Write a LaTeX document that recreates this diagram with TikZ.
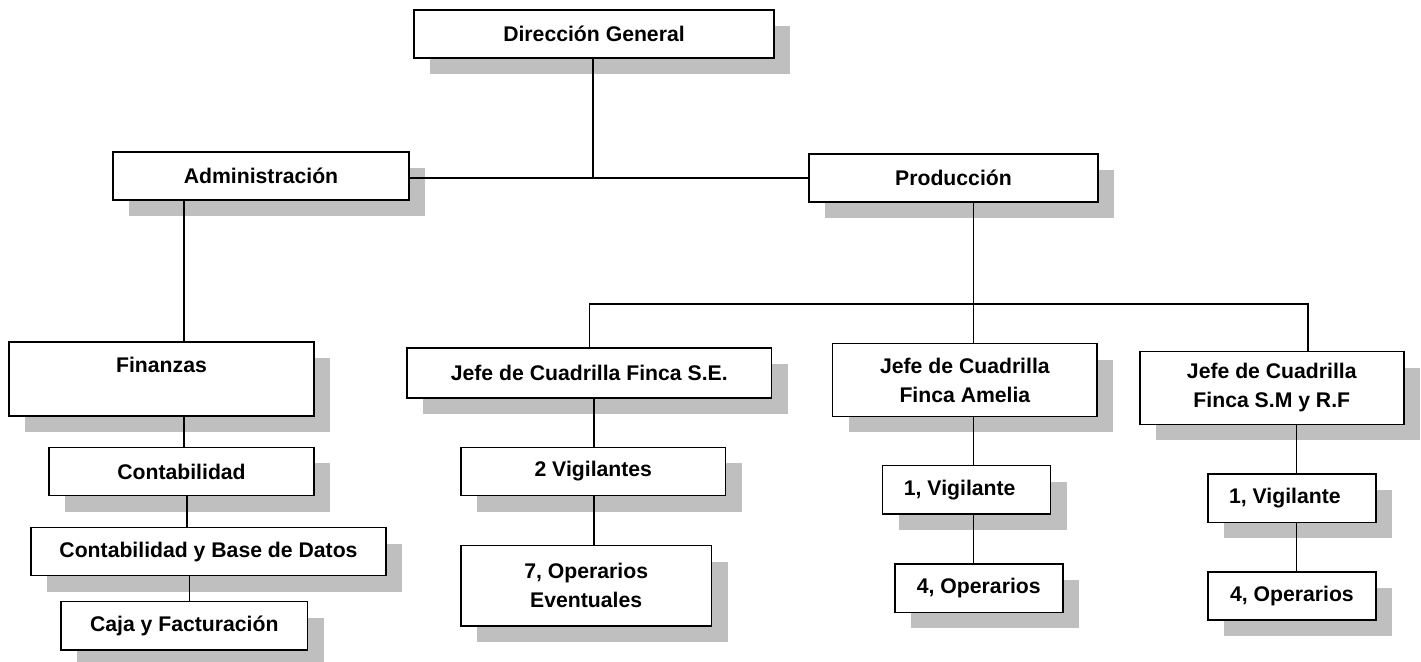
\documentclass[tikz,border=0pt]{standalone}
\usepackage{fontspec}
\setmainfont{Liberation Sans}
\usetikzlibrary{shadows}

\begin{document}
\begin{tikzpicture}[x=0.5pt,y=-0.5pt,
    cadre/.style={draw, line width=0.75pt, fill=white, align=center, inner sep=0pt,
      font=\fontsize{10.6}{12.5}\selectfont\bfseries,
      drop shadow={shadow xshift=8pt, shadow yshift=-8pt, fill=black!25, opacity=1}},
    lien/.style={line width=0.55pt}]
    \useasboundingbox (0,0) rectangle (1421,662);
    % Dirección
    \node[cadre, minimum width=180pt, minimum height=24.2pt] (dg) at (594,34) {Dirección General};
    \node[cadre, minimum width=148pt, minimum height=24.2pt] (adm) at (261,176) {Administración};
    \node[cadre, minimum width=144.5pt, minimum height=24.2pt] (prod) at (953.5,178) {Producción};
    % Administración
    \node[cadre, minimum width=152.5pt, minimum height=37.2pt] (fin) at (161.5,379) {Finanzas\\[2pt]\phantom{F}};
    \node[cadre, minimum width=132.5pt, minimum height=24.2pt] (cont) at (181.5,471.5) {Contabilidad};
    \node[cadre, minimum width=177.5pt, minimum height=24pt] (cbd) at (208.5,551.7) {Contabilidad y Base de Datos};
    \node[cadre, minimum width=123.3pt, minimum height=24.2pt] (caja) at (184.3,625.8) {Caja y Facturación};
    % Producción
    \node[cadre, minimum width=182.3pt, minimum height=25pt] (se) at (589.3,373) {Jefe de Cuadrilla Finca S.E.};
    \node[cadre, minimum width=132.3pt, minimum height=24.2pt] (vig2) at (593.3,471.5) {2 Vigilantes};
    \node[cadre, minimum width=125.3pt, minimum height=40.2pt] (op7) at (586.2,585.8) {7, Operarios\\[2pt]Eventuales};
    \node[cadre, minimum width=132.2pt, minimum height=36.3pt] (ame) at (964.9,380) {Jefe de Cuadrilla\\[2pt]Finca Amelia};
    \node[cadre, minimum width=84pt, minimum height=24.2pt] (vig1a) at (966.7,489.8) {1, Vigilante\hspace{7pt}};
    \node[cadre, minimum width=84pt, minimum height=24.2pt] (op4a) at (978.8,588.2) {4, Operarios};
    \node[cadre, minimum width=132pt, minimum height=36.3pt] (sm) at (1271.8,388) {Jefe de Cuadrilla\\[2pt]Finca S.M y R.F};
    \node[cadre, minimum width=84pt, minimum height=24.2pt] (vig1b) at (1291.9,498.2) {1, Vigilante\hspace{7pt}};
    \node[cadre, minimum width=84pt, minimum height=24pt] (op4b) at (1291.9,596) {4, Operarios};
    % Repères des liaisons
    \coordinate (j0) at (593,178);
    \coordinate (bus) at (973.5,304);
    \coordinate (xa) at (184,0);
    \coordinate (xb) at (187,0);
    \coordinate (xc) at (189.6,0);
    \coordinate (xd) at (589.5,0);
    \coordinate (xe) at (594,0);
    \coordinate (xf) at (973.5,0);
    \coordinate (xg) at (1308,0);
    \coordinate (xh) at (1296.4,0);
    % Liaisons
    \draw[lien] (dg.south -| j0) -- (j0);
    \draw[lien] (adm.east |- j0) -- (prod.west |- j0);
    \draw[lien] (adm.south -| xa) -- (fin.north -| xa);
    \draw[lien] (fin.south -| xa) -- (cont.north -| xa);
    \draw[lien] (cont.south -| xb) -- (cbd.north -| xb);
    \draw[lien] (cbd.south -| xc) -- (caja.north -| xc);
    \draw[lien] (prod.south -| xf) -- (bus);
    \draw[lien] (se.north -| xd) -- (xd |- bus) -- (xg |- bus) -- (sm.north -| xg);
    \draw[lien] (bus) -- (ame.north -| xf);
    \draw[lien] (se.south -| xe) -- (vig2.north -| xe);
    \draw[lien] (vig2.south -| xe) -- (op7.north -| xe);
    \draw[lien] (ame.south -| xf) -- (vig1a.north -| xf);
    \draw[lien] (vig1a.south -| xf) -- (op4a.north -| xf);
    \draw[lien] (sm.south -| xh) -- (vig1b.north -| xh);
    \draw[lien] (vig1b.south -| xh) -- (op4b.north -| xh);
\end{tikzpicture}
\end{document}
